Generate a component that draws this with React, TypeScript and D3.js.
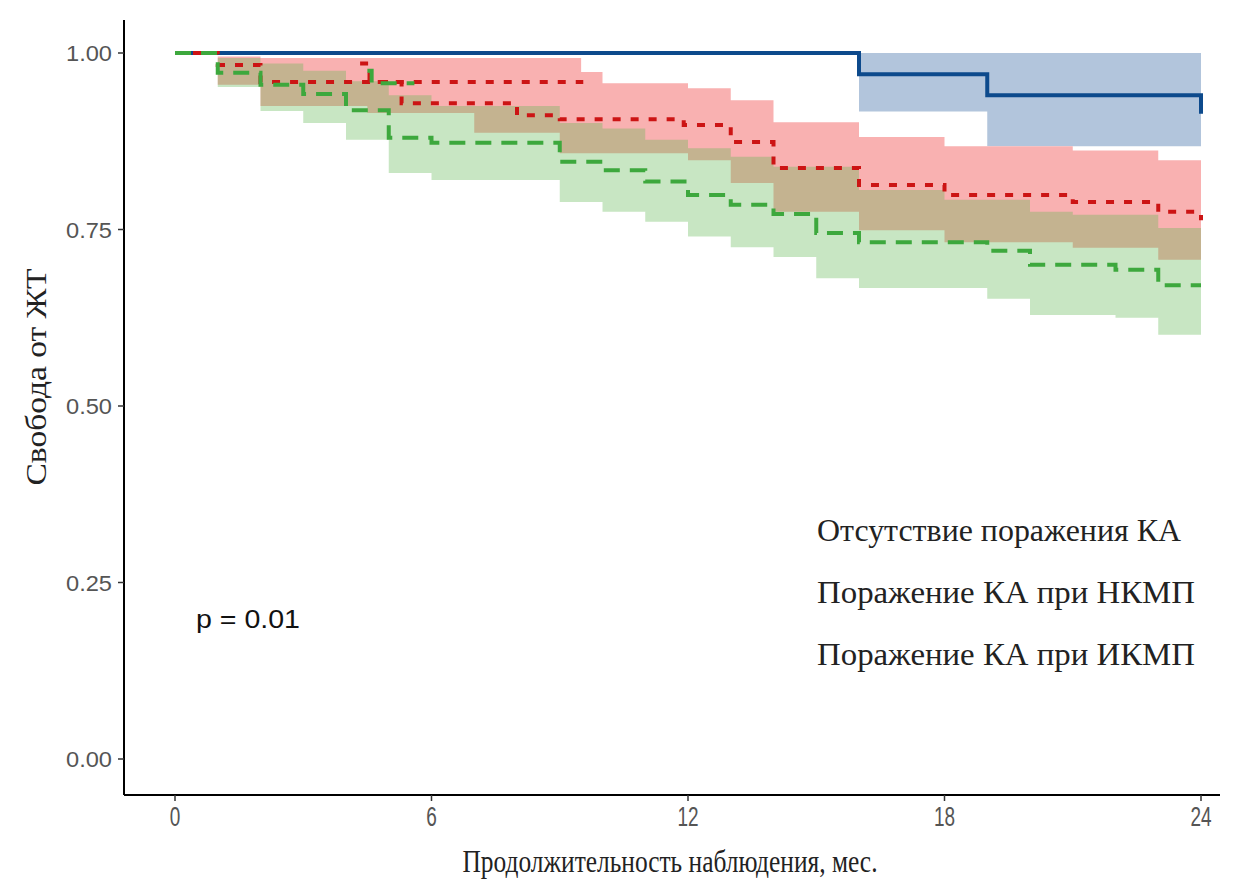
import React from "react";
import * as d3 from "d3";

// ---- data (time in months, survival probability) ----
const xTicks = [0, 6, 12, 18, 24];
const yTicks = [0, 0.25, 0.5, 0.75, 1.0];
const yTickLabels = ["0.00", "0.25", "0.50", "0.75", "1.00"];

// step curves: [time, value] – value holds from time until next time
const blueCurve: [number, number][] = [[0, 1.0], [16, 0.970], [19, 0.940], [24, 0.914]];
const redCurve: [number, number][] = [
  [0, 1.0], [1, 0.983], [2, 0.959], [5.3, 0.929], [8, 0.912], [9, 0.906], [11.9, 0.898],
  [13, 0.874], [14, 0.837], [16, 0.813], [18, 0.799], [21, 0.789], [23, 0.775], [24, 0.763],
];
const redFragment: [number, number][] = [[4.33, 0.985], [4.55, 0.959], [9.55, 0.959]];
const greenCurve: [number, number][] = [
  [0, 1.0], [1, 0.972], [2, 0.955], [3, 0.942], [4, 0.919], [5, 0.880], [6, 0.873],
  [9, 0.846], [10, 0.834], [11, 0.818], [12, 0.799], [13, 0.785], [14, 0.772], [15, 0.745],
  [16, 0.732], [19, 0.720], [20, 0.700], [22, 0.693], [23, 0.671], [24, 0.671],
];
const greenFragment: [number, number][] = [[4.5, 0.975], [4.6, 0.957], [5.6, 0.957]];

// confidence bands: [time, lower, upper]
const blueBand: [number, number, number][] = [[16, 0.917, 1.0], [19, 0.868, 1.0], [24, 0.868, 1.0]];
const redBand: [number, number, number][] = [
  [1, 0.955, 0.995], [2, 0.925, 0.993], [4.5, 0.915, 0.993], [7, 0.887, 0.993], [9, 0.858, 0.993],
  [9.5, 0.858, 0.973], [10, 0.858, 0.957], [12, 0.848, 0.950], [13, 0.816, 0.933], [14, 0.775, 0.902],
  [16, 0.749, 0.881], [18, 0.732, 0.868], [21, 0.724, 0.862], [23, 0.707, 0.848], [24, 0.707, 0.848],
];
const greenBand: [number, number, number][] = [
  [1, 0.952, 0.993], [2, 0.918, 0.985], [3, 0.901, 0.975], [4, 0.877, 0.96], [5, 0.830, 0.94],
  [6, 0.820, 0.925], [9, 0.789, 0.901], [10, 0.775, 0.893], [11, 0.761, 0.877], [12, 0.740, 0.865],
  [13, 0.725, 0.853], [14, 0.711, 0.839], [15, 0.681, 0.839], [16, 0.667, 0.806], [18, 0.667, 0.792],
  [19, 0.652, 0.792], [20, 0.629, 0.775], [21, 0.629, 0.771], [22, 0.625, 0.771], [23, 0.601, 0.752],
  [24, 0.601, 0.752],
];

const legendLabels = ["Отсутствие поражения КА", "Поражение КА при НКМП", "Поражение КА при ИКМП"];
const pValueText = "p = 0.01";
const xTitle = "Продолжительность наблюдения, мес.";
const yTitle = "Свобода от ЖТ";

const SANS = "'Liberation Sans', Arial, sans-serif";
const SERIF = "'Liberation Serif', 'Times New Roman', serif";

export default function App() {
  const W = 1239, H = 879;
  const x = d3.scaleLinear().domain([0, 24]).range([175, 1201]);
  const y = d3.scaleLinear().domain([0, 1]).range([759, 53]);

  const line = d3.line<[number, number]>()
    .x((d) => x(d[0])).y((d) => y(d[1])).curve(d3.curveStepAfter);
  const area = d3.area<[number, number, number]>()
    .x((d) => x(d[0])).y0((d) => y(d[1])).y1((d) => y(d[2])).curve(d3.curveStepAfter);

  const axisX0 = 124, axisY0 = 795;

  return (
    <svg width={W} height={H} style={{ position: "absolute", left: 0, top: 0, background: "#fff" }}>
      <rect width={W} height={H} fill="#fff" />
      {/* bands */}
      <path d={area(blueBand) || ""} fill="#B2C5DC" />
      <path d={area(redBand) || ""} fill="#F9B1B1" />
      <path d={area(greenBand) || ""} fill="rgb(98,184,84)" fillOpacity={0.35} />

      {/* curves */}
      <path d={line(blueCurve) || ""} fill="none" stroke="#0D4A8C" strokeWidth={4} />
      <path d={line(redCurve) || ""} fill="none" stroke="#CC1414" strokeWidth={4} strokeDasharray="8,10" />
      <path d={line(redFragment) || ""} fill="none" stroke="#CC1414" strokeWidth={4} strokeDasharray="8,10" />
      <path d={line(greenCurve) || ""} fill="none" stroke="#3DA83D" strokeWidth={4} strokeDasharray="16,10" />
      <path d={line(greenFragment) || ""} fill="none" stroke="#3DA83D" strokeWidth={4} strokeDasharray="16,10" />

      {/* axes */}
      <line x1={axisX0} y1={20} x2={axisX0} y2={axisY0} stroke="#000" strokeWidth={2} />
      <line x1={axisX0} y1={axisY0} x2={1220} y2={axisY0} stroke="#000" strokeWidth={2} />
      {yTicks.map((v, i) => (
        <g key={"yt" + i}>
          <line x1={axisX0 - 6} x2={axisX0} y1={y(v)} y2={y(v)} stroke="#333" strokeWidth={1.5} />
          <text x={112} y={y(v) + 8} textAnchor="end" fontFamily={SANS} fontSize={22} fill="#555"
            textLength={46} lengthAdjust="spacingAndGlyphs">
            {yTickLabels[i]}
          </text>
        </g>
      ))}
      {xTicks.map((t) => (
        <g key={"xt" + t}>
          <line x1={x(t)} x2={x(t)} y1={axisY0} y2={axisY0 + 6} stroke="#333" strokeWidth={1.5} />
          <text transform={`translate(${x(t)},826) scale(0.95,1.4)`} textAnchor="middle"
            fontFamily={SANS} fontSize={20} fill="#555">{t}</text>
        </g>
      ))}

      {/* titles */}
      <text transform={`translate(670,872) scale(1,1.2)`} textAnchor="middle" fontFamily={SERIF}
        fontSize={27} fill="#222" textLength={415} lengthAdjust="spacingAndGlyphs">{xTitle}</text>
      <text transform={`translate(46,377) rotate(-90)`} textAnchor="middle" fontFamily={SERIF}
        fontSize={30} fill="#222" textLength={217} lengthAdjust="spacingAndGlyphs">{yTitle}</text>

      {/* p value */}
      <text x={196} y={628} fontFamily={SANS} fontSize={26} fill="#111" textLength={104}
        lengthAdjust="spacingAndGlyphs">{pValueText}</text>

      {/* legend */}
      {legendLabels.map((s, i) => (
        <text key={"lg" + i} x={817} y={541 + i * 62} fontFamily={SERIF} fontSize={32} fill="#222"
          textLength={i === 0 ? 364 : 378} lengthAdjust="spacingAndGlyphs">{s}</text>
      ))}
    </svg>
  );
}
